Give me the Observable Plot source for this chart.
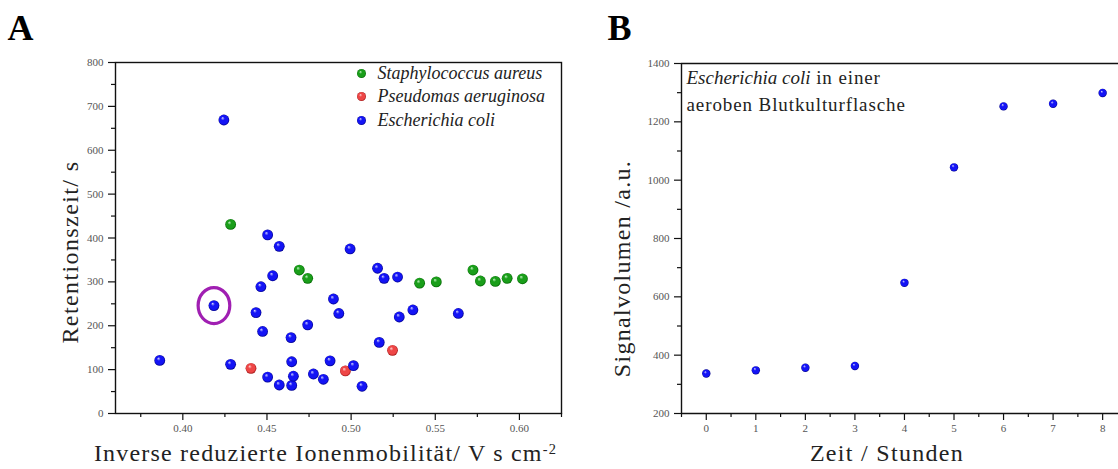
<!DOCTYPE html>
<html><head><meta charset="utf-8">
<script src="https://cdn.jsdelivr.net/npm/d3@7"></script>
<script src="https://cdn.jsdelivr.net/npm/@observablehq/plot@0.6"></script>
<style>
html,body{margin:0;padding:0;background:#fff;overflow:hidden}
#wrap{position:relative;width:1118px;height:469px;overflow:hidden}
#a{position:absolute;left:0;top:0}
#b{position:absolute;left:580px;top:0}
</style></head><body><div id="wrap"><div id="a"></div><div id="b"></div></div>
<script>
// ---------- Panel A data ----------
const seriesNames = ["Staphylococcus aureus", "Pseudomas aeruginosa", "Escherichia coli"];
const saX = [0.4284, 0.4692, 0.4742, 0.5407, 0.5506, 0.5724, 0.5768, 0.5857, 0.5927, 0.6018];
const saY = [431, 327, 308, 297, 300, 327, 302, 301, 308, 307];
const paX = [0.4405, 0.4966, 0.5246];
const paY = [103, 97, 144];
const ecX = [0.4244, 0.4504, 0.4573, 0.4534, 0.4464, 0.4185, 0.4435, 0.4474, 0.4643, 0.4742, 0.3863, 0.4284, 0.4647, 0.4504, 0.4573, 0.4647, 0.4657, 0.4776, 0.4835, 0.4994, 0.5157, 0.5196, 0.5276, 0.4895, 0.4927, 0.5286, 0.5367, 0.5637, 0.5167, 0.4875, 0.5014, 0.5065];
const ecY = [669, 407, 381, 314, 289, 246, 230, 187, 173, 202, 121, 112, 118, 83, 65, 64, 85, 90, 78, 375, 331, 308, 311, 261, 228, 220, 236, 228, 162, 120, 109, 62];
const highlightIndex = 5; // circled E. coli point
const aTicksX = [0.40, 0.45, 0.50, 0.55, 0.60];
const aMinorX = [0.375, 0.425, 0.475, 0.525, 0.575, 0.625];
const aTicksY = [0, 100, 200, 300, 400, 500, 600, 700, 800];
const aMinorY = [50, 150, 250, 350, 450, 550, 650, 750];
const aXLabel = "Inverse reduzierte Ionenmobilität/ V s cm";
const aXLabelSup = "-2";
const aYLabel = "Retentionszeit/ s";

// ---------- Panel B data ----------
const hours = [0, 1, 2, 3, 4, 5, 6, 7, 8];
const signal = [337, 348, 357, 363, 648, 1044, 1253, 1262, 1299];
const bTicksX = [0, 1, 2, 3, 4, 5, 6, 7, 8];
const bMinorX = [-0.5, 0.5, 1.5, 2.5, 3.5, 4.5, 5.5, 6.5, 7.5];
const bTicksY = [200, 400, 600, 800, 1000, 1200, 1400];
const bMinorY = [300, 500, 700, 900, 1100, 1300];
const bXLabel = "Zeit / Stunden";
const bYLabel = "Signalvolumen /a.u.";
const bNoteItalic = "Escherichia coli";
const bNoteRest = " in einer";
const bNote2 = "aeroben Blutkulturflasche";

const FONT = "'Liberation Serif', 'DejaVu Serif', serif";
const sphere = {
  green: ["#c8f5c8", "#1a9e1a", "#006400"],
  red: ["#ffd6d6", "#ee4646", "#a01414"],
  blue: ["#d4d4ff", "#1414f5", "#00008a"]
};
const seriesColor = ["green", "red", "blue"];

function addDefs(svg, prefix) {
  const defs = d3.select(svg).insert("defs", ":first-child");
  for (const [name, [hi, mid, lo]] of Object.entries(sphere)) {
    const g = defs.append("radialGradient").attr("id", prefix + name)
      .attr("cx", "0.5").attr("cy", "0.5").attr("r", "0.5").attr("fx", "0.36").attr("fy", "0.3");
    g.append("stop").attr("offset", "0").attr("stop-color", hi);
    g.append("stop").attr("offset", "0.35").attr("stop-color", mid);
    g.append("stop").attr("offset", "0.8").attr("stop-color", mid);
    g.append("stop").attr("offset", "1").attr("stop-color", lo);
  }
}
function textsOf(svg, content) {
  return d3.select(svg).selectAll("text").filter(function () { return this.textContent === content; });
}

const ellipseSymbol = {
  draw(ctx, size) {
    const r = Math.sqrt(size / Math.PI), rx = r * 0.88, ry = r, k = 0.5523;
    ctx.moveTo(rx, 0);
    ctx.bezierCurveTo(rx, k * ry, k * rx, ry, 0, ry);
    ctx.bezierCurveTo(-k * rx, ry, -rx, k * ry, -rx, 0);
    ctx.bezierCurveTo(-rx, -k * ry, -k * rx, -ry, 0, -ry);
    ctx.bezierCurveTo(k * rx, -ry, rx, -k * ry, rx, 0);
    ctx.closePath();
  }
};

const toRows = (xs, ys) => xs.map((x, i) => ({x, y: ys[i]}));
const axisStyle = {fontSize: 11, fill: "#555", stroke: "#111", strokeWidth: 1.2, label: null};
const LABEL = 24;

// ---------- Panel A ----------
const legendDy = [11, 34, 58];
const plotA = Plot.plot({
  width: 580, height: 469,
  marginLeft: 115, marginTop: 62, marginRight: 19, marginBottom: 56,
  x: {domain: [0.36, 0.625]},
  y: {domain: [0, 800]},
  style: {fontFamily: FONT, background: "transparent", overflow: "visible"},
  marks: [
    Plot.frame({stroke: "#111", strokeWidth: 1.4}),
    Plot.axisX({...axisStyle, ticks: aTicksX, tickSize: 7, tickPadding: 4, tickFormat: d3.format(".2f")}),
    Plot.axisX({...axisStyle, ticks: aMinorX, tickSize: 4, tickFormat: () => ""}),
    Plot.axisY({...axisStyle, ticks: aTicksY, tickSize: 7, tickPadding: 5, tickFormat: d3.format("d")}),
    Plot.axisY({...axisStyle, ticks: aMinorY, tickSize: 4, tickFormat: () => ""}),
    Plot.dot(toRows(saX, saY), {x: "x", y: "y", r: 5.4, fill: "url(#agreen)"}),
    Plot.dot(toRows(paX, paY), {x: "x", y: "y", r: 5.4, fill: "url(#ared)"}),
    Plot.dot(toRows(ecX, ecY), {x: "x", y: "y", r: 5.4, fill: "url(#ablue)"}),
    Plot.dot([{x: ecX[highlightIndex], y: ecY[highlightIndex]}], {x: "x", y: "y", r: 18, symbol: ellipseSymbol, fill: "none", stroke: "#a01fb2", strokeWidth: 3.2}),
    ...seriesNames.map((name, i) => Plot.dot([name], {frameAnchor: "top-left", dx: 246, dy: legendDy[i], r: 4.5, fill: `url(#a${seriesColor[i]})`})),
    ...seriesNames.map((name, i) => Plot.text([name], {frameAnchor: "top-left", text: d => d, dx: 262, dy: legendDy[i], textAnchor: "start", lineAnchor: "middle", fontSize: 18, fontStyle: "italic", fill: "#222"})),
    Plot.text([aYLabel], {frameAnchor: "left", text: d => d, rotate: -90, dx: -45, dy: 14, fontSize: LABEL, fill: "#222", textAnchor: "middle", lineAnchor: "middle"}),
    Plot.text([aXLabel], {frameAnchor: "bottom", text: d => d, dx: -13, dy: 40, fontSize: LABEL, fill: "#222", textAnchor: "middle", lineAnchor: "middle"}),
    Plot.text(["A"], {frameAnchor: "top-left", text: d => d, dx: -108, dy: -34, fontSize: 36, fontWeight: "bold", fill: "#000", textAnchor: "start", lineAnchor: "middle"})
  ]
});
addDefs(plotA, "a");
textsOf(plotA, aYLabel).attr("letter-spacing", "1.4px");
textsOf(plotA, aXLabel).attr("letter-spacing", "1.2px")
  .append("tspan").attr("dy", "-0.5em").attr("font-size", "0.6em").text(aXLabelSup);
document.getElementById("a").appendChild(plotA);

// ---------- Panel B ----------
const plotB = Plot.plot({
  width: 538, height: 469,
  marginLeft: 101, marginTop: 63, marginRight: 0, marginBottom: 56,
  x: {domain: [-0.5, 8.32]},
  y: {domain: [200, 1400]},
  style: {fontFamily: FONT, background: "transparent", overflow: "visible"},
  marks: [
    Plot.ruleY([1400], {stroke: "#111", strokeWidth: 1.4}),
    Plot.ruleY([200], {stroke: "#111", strokeWidth: 1.4}),
    Plot.ruleX([-0.5], {stroke: "#111", strokeWidth: 1.4}),
    Plot.axisX({...axisStyle, ticks: bTicksX, tickSize: 7, tickPadding: 4, tickFormat: d3.format("d")}),
    Plot.axisX({...axisStyle, ticks: bMinorX, tickSize: 4, tickFormat: () => ""}),
    Plot.axisY({...axisStyle, ticks: bTicksY, tickSize: 7, tickPadding: 5, tickFormat: d3.format("d")}),
    Plot.axisY({...axisStyle, ticks: bMinorY, tickSize: 4, tickFormat: () => ""}),
    Plot.dot(toRows(hours, signal), {x: "x", y: "y", r: 4.2, fill: "url(#bblue)"}),
    Plot.text([bNoteItalic + bNoteRest], {frameAnchor: "top-left", text: d => d, dx: 5, dy: 14, fontSize: 19, fill: "#222", textAnchor: "start", lineAnchor: "middle"}),
    Plot.text([bNote2], {frameAnchor: "top-left", text: d => d, dx: 5, dy: 41, fontSize: 19, fill: "#222", textAnchor: "start", lineAnchor: "middle"}),
    Plot.text([bYLabel], {frameAnchor: "left", text: d => d, rotate: -90, dx: -59, dy: 30, fontSize: LABEL, fill: "#222", textAnchor: "middle", lineAnchor: "middle"}),
    Plot.text([bXLabel], {frameAnchor: "bottom", text: d => d, dx: -13, dy: 40, fontSize: LABEL, fill: "#222", textAnchor: "middle", lineAnchor: "middle"}),
    Plot.text(["B"], {frameAnchor: "top-left", text: d => d, dx: -74, dy: -35, fontSize: 36, fontWeight: "bold", fill: "#000", textAnchor: "start", lineAnchor: "middle"})
  ]
});
addDefs(plotB, "b");
textsOf(plotB, bNoteItalic + bNoteRest).each(function () {
  const t = d3.select(this);
  t.text(null);
  t.append("tspan").attr("font-style", "italic").text(bNoteItalic);
  t.append("tspan").attr("letter-spacing", "0.9px").text(bNoteRest);
});
textsOf(plotB, bNote2).attr("letter-spacing", "0.9px");
textsOf(plotB, bYLabel).attr("letter-spacing", "1.3px");
textsOf(plotB, bXLabel).attr("letter-spacing", "1.3px");
document.getElementById("b").appendChild(plotB);
</script></body></html>
